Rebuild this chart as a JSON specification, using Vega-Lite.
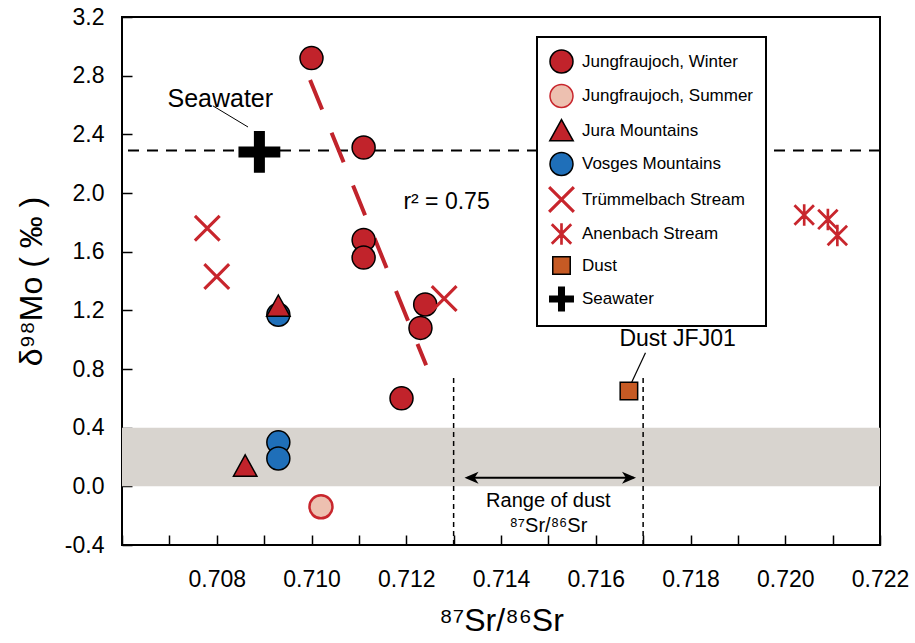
{
  "$schema": "https://vega.github.io/schema/vega-lite/v6.json",
  "width": 758,
  "height": 528,
  "autosize": {"type": "none"},
  "padding": {"left": 122, "top": 17, "right": 35, "bottom": 98},
  "background": "white",
  "config": {
    "view": {"stroke": "black", "strokeWidth": 2},
    "font": "Liberation Sans",
    "axis": {
      "grid": false, "domain": false, "tickColor": "black", "tickWidth": 1.5, "tickSize": -10,
      "labelFont": "Liberation Sans", "labelFontSize": 23, "labelColor": "black",
      "titleFont": "Liberation Sans", "titleColor": "black", "titleFontWeight": "normal", "titleFontSize": 32,
      "labelOverlap": false, "labelBound": false, "labelFlush": false
    },
    "legend": {
      "strokeColor": "black", "strokeWidth": 2, "fillColor": "white", "padding": 12, "rowPadding": 5.5,
      "labelFont": "Liberation Sans", "labelFontSize": 17, "labelColor": "black", "labelLimit": 400,
      "symbolSize": 529, "symbolStrokeWidth": 1.5, "labelOffset": 8
    }
  },
  "datasets": {
    "points": [
      {"x": 0.7100, "y": 2.92, "group": "Jungfraujoch, Winter"},
      {"x": 0.7111, "y": 2.31, "group": "Jungfraujoch, Winter"},
      {"x": 0.7111, "y": 1.68, "group": "Jungfraujoch, Winter"},
      {"x": 0.7111, "y": 1.56, "group": "Jungfraujoch, Winter"},
      {"x": 0.7124, "y": 1.24, "group": "Jungfraujoch, Winter"},
      {"x": 0.7123, "y": 1.08, "group": "Jungfraujoch, Winter"},
      {"x": 0.7119, "y": 0.60, "group": "Jungfraujoch, Winter"},
      {"x": 0.7102, "y": -0.14, "group": "Jungfraujoch, Summer"},
      {"x": 0.7093, "y": 1.17, "group": "Vosges Mountains"},
      {"x": 0.7093, "y": 0.30, "group": "Vosges Mountains"},
      {"x": 0.7093, "y": 0.19, "group": "Vosges Mountains"},
      {"x": 0.7093, "y": 1.23, "group": "Jura Mountains"},
      {"x": 0.7086, "y": 0.14, "group": "Jura Mountains"},
      {"x": 0.7078, "y": 1.76, "group": "Trümmelbach Stream"},
      {"x": 0.7080, "y": 1.43, "group": "Trümmelbach Stream"},
      {"x": 0.7128, "y": 1.28, "group": "Trümmelbach Stream"},
      {"x": 0.7204, "y": 1.85, "group": "Anenbach Stream"},
      {"x": 0.7209, "y": 1.82, "group": "Anenbach Stream"},
      {"x": 0.7211, "y": 1.71, "group": "Anenbach Stream"},
      {"x": 0.7167, "y": 0.65, "group": "Dust"},
      {"x": 0.7089, "y": 2.28, "group": "Seawater"}
    ],
    "fit": [
      {"x": 0.70997, "y": 2.771},
      {"x": 0.71242, "y": 0.826}
    ],
    "one": [{}]
  },
  "layer": [
    {
      "data": {"name": "one"},
      "mark": {"type": "rect", "color": "#D8D4CF"},
      "encoding": {
        "x": {"datum": 0.706, "type": "quantitative"},
        "x2": {"datum": 0.722},
        "y": {"datum": 0, "type": "quantitative"},
        "y2": {"datum": 0.4}
      }
    },
    {
      "data": {"name": "one"},
      "mark": {"type": "rule", "color": "black", "strokeWidth": 1.5, "strokeDash": [5, 4]},
      "encoding": {
        "x": {"datum": 0.713, "type": "quantitative"},
        "y": {"datum": -0.4, "type": "quantitative"},
        "y2": {"datum": 0.75}
      }
    },
    {
      "data": {"name": "one"},
      "mark": {"type": "rule", "color": "black", "strokeWidth": 1.5, "strokeDash": [5, 4]},
      "encoding": {
        "x": {"datum": 0.717, "type": "quantitative"},
        "y": {"datum": -0.4, "type": "quantitative"},
        "y2": {"datum": 0.75}
      }
    },
    {
      "data": {"name": "one"},
      "mark": {"type": "rule", "color": "black", "strokeWidth": 2},
      "encoding": {
        "x": {"datum": 0.71330, "type": "quantitative"},
        "x2": {"datum": 0.71680},
        "y": {"datum": 0.059, "type": "quantitative"}
      }
    },
    {
      "data": {"name": "one"},
      "mark": {"type": "point", "filled": true, "opacity": 1, "color": "black", "size": 196, "shape": "M0,0L2,-0.85L1.45,0L2,0.85Z"},
      "encoding": {
        "x": {"datum": 0.71323, "type": "quantitative"},
        "y": {"datum": 0.059, "type": "quantitative"}
      }
    },
    {
      "data": {"name": "one"},
      "mark": {"type": "point", "filled": true, "opacity": 1, "color": "black", "size": 196, "shape": "M0,0L-2,-0.85L-1.45,0L-2,0.85Z"},
      "encoding": {
        "x": {"datum": 0.71685, "type": "quantitative"},
        "y": {"datum": 0.059, "type": "quantitative"}
      }
    },
    {
      "data": {"name": "one"},
      "mark": {"type": "rule", "color": "black", "strokeWidth": 2, "strokeDash": [11, 8]},
      "encoding": {
        "y": {"datum": 2.29, "type": "quantitative"}
      }
    },
    {
      "data": {"name": "fit"},
      "mark": {"type": "line", "color": "#C1232B", "strokeWidth": 4, "strokeDash": [32, 25], "strokeCap": "butt"},
      "encoding": {
        "x": {"field": "x", "type": "quantitative"},
        "y": {"field": "y", "type": "quantitative"}
      }
    },
    {
      "data": {"name": "one"},
      "mark": {"type": "rule", "color": "black", "strokeWidth": 1},
      "encoding": {
        "x": {"datum": 0.70792, "type": "quantitative"},
        "y": {"datum": 2.594, "type": "quantitative"},
        "x2": {"datum": 0.70866},
        "y2": {"datum": 2.45}
      }
    },
    {
      "data": {"name": "one"},
      "mark": {"type": "rule", "color": "black", "strokeWidth": 1.2},
      "encoding": {
        "x": {"datum": 0.71705, "type": "quantitative"},
        "y": {"datum": 0.91, "type": "quantitative"},
        "x2": {"datum": 0.71668},
        "y2": {"datum": 0.655}
      }
    },
    {
      "data": {"name": "one"},
      "mark": {"type": "text", "text": "Seawater", "font": "Liberation Sans", "fontSize": 25, "align": "left", "baseline": "alphabetic", "color": "black"},
      "encoding": {
        "x": {"datum": 0.70696, "type": "quantitative"},
        "y": {"datum": 2.587, "type": "quantitative"}
      }
    },
    {
      "data": {"name": "one"},
      "mark": {"type": "text", "text": "r² = 0.75", "font": "Liberation Sans", "fontSize": 23, "align": "left", "baseline": "alphabetic", "color": "black"},
      "encoding": {
        "x": {"datum": 0.71194, "type": "quantitative"},
        "y": {"datum": 1.891, "type": "quantitative"}
      }
    },
    {
      "data": {"name": "one"},
      "mark": {"type": "text", "text": "Dust JFJ01", "font": "Liberation Sans", "fontSize": 23, "align": "left", "baseline": "alphabetic", "color": "black"},
      "encoding": {
        "x": {"datum": 0.7165, "type": "quantitative"},
        "y": {"datum": 0.956, "type": "quantitative"}
      }
    },
    {
      "data": {"name": "one"},
      "mark": {"type": "text", "text": "Range of dust", "font": "Liberation Sans", "fontSize": 20, "align": "center", "baseline": "alphabetic", "color": "black"},
      "encoding": {
        "x": {"datum": 0.715, "type": "quantitative"},
        "y": {"datum": -0.141, "type": "quantitative"}
      }
    },
    {
      "data": {"name": "one"},
      "mark": {"type": "text", "text": "⁸⁷Sr/⁸⁶Sr", "font": "Liberation Sans", "fontSize": 20, "align": "center", "baseline": "alphabetic", "color": "black"},
      "encoding": {
        "x": {"datum": 0.715, "type": "quantitative"},
        "y": {"datum": -0.312, "type": "quantitative"}
      }
    },
    {
      "data": {"name": "points"},
      "mark": {"type": "point", "filled": true, "opacity": 1, "strokeWidth": 1.5},
      "encoding": {
        "x": {
          "field": "x", "type": "quantitative",
          "scale": {"domain": [0.706, 0.722], "nice": false, "zero": false},
          "axis": {
            "title": "⁸⁷Sr/⁸⁶Sr",
            "values": [0.706, 0.707, 0.708, 0.709, 0.710, 0.711, 0.712, 0.713, 0.714, 0.715, 0.716, 0.717, 0.718, 0.719, 0.720, 0.721, 0.722],
            "labelExpr": "(round(datum.value*1000) % 2 == 0 && datum.value > 0.7065) ? format(datum.value, '.3f') : ''",
            "labelPadding": 33,
            "titlePadding": 14
          }
        },
        "y": {
          "field": "y", "type": "quantitative",
          "scale": {"domain": [-0.4, 3.2], "nice": false, "zero": false},
          "axis": {
            "title": "δ⁹⁸Mo ( ‰ )",
            "values": [-0.4, -0.2, 0, 0.2, 0.4, 0.6, 0.8, 1.0, 1.2, 1.4, 1.6, 1.8, 2.0, 2.2, 2.4, 2.6, 2.8, 3.0, 3.2],
            "labelExpr": "abs(round(datum.value*10)) % 4 == 0 ? replace(format(datum.value, '.1f'), '−', '-') : ''",
            "labelPadding": 28,
            "titlePadding": 16
          }
        },
        "shape": {
          "field": "group", "type": "nominal",
          "scale": {
            "domain": ["Jungfraujoch, Winter", "Jungfraujoch, Summer", "Jura Mountains", "Vosges Mountains", "Trümmelbach Stream", "Anenbach Stream", "Dust", "Seawater"],
            "range": [
              "circle",
              "circle",
              "M0,-0.95L1.02,0.9L-1.02,0.9Z",
              "circle",
              "M1.08,0.98L0.98,1.08L0,0.1L-0.98,1.08L-1.08,0.98L-0.1,0L-1.08,-0.98L-0.98,-1.08L0,-0.1L0.98,-1.08L1.08,-0.98L0.1,0Z",
              "M0.84,0.76L0.76,0.84L0,0.08L-0.76,0.84L-0.84,0.76L-0.08,0L-0.84,-0.76L-0.76,-0.84L0,-0.08L0.76,-0.84L0.84,-0.76L0.08,0Z M-0.05,-0.87H0.05V0.87H-0.05Z",
              "M-0.76,-0.76H0.76V0.76H-0.76Z",
              "M-0.24,-1.02H0.24V-0.24H1.02V0.24H0.24V1.02H-0.24V0.24H-1.02V-0.24H-0.24Z"
            ]
          },
          "legend": {"title": null, "orient": "none", "legendX": 415, "legendY": 20}
        },
        "fill": {
          "field": "group", "type": "nominal",
          "scale": {
            "domain": ["Jungfraujoch, Winter", "Jungfraujoch, Summer", "Jura Mountains", "Vosges Mountains", "Trümmelbach Stream", "Anenbach Stream", "Dust", "Seawater"],
            "range": ["#C1232B", "#EDC0B0", "#C1232B", "#1F6FB9", "#C8262D", "#C8262D", "#C65A24", "#000000"]
          },
          "legend": {"title": null, "orient": "none", "legendX": 415, "legendY": 20}
        },
        "stroke": {
          "field": "group", "type": "nominal",
          "scale": {
            "domain": ["Jungfraujoch, Winter", "Jungfraujoch, Summer", "Jura Mountains", "Vosges Mountains", "Trümmelbach Stream", "Anenbach Stream", "Dust", "Seawater"],
            "range": ["#000000", "#C8262D", "#000000", "#000000", "#C8262D", "#C8262D", "#000000", "#000000"]
          },
          "legend": {"title": null, "orient": "none", "legendX": 415, "legendY": 20}
        },
        "size": {"condition": {"test": "datum.group === 'Seawater'", "value": 1565}, "value": 529},
        "strokeWidth": {"condition": {"test": "datum.group === 'Jungfraujoch, Summer'", "value": 2.5}, "value": 1.5}
      }
    }
  ]
}
